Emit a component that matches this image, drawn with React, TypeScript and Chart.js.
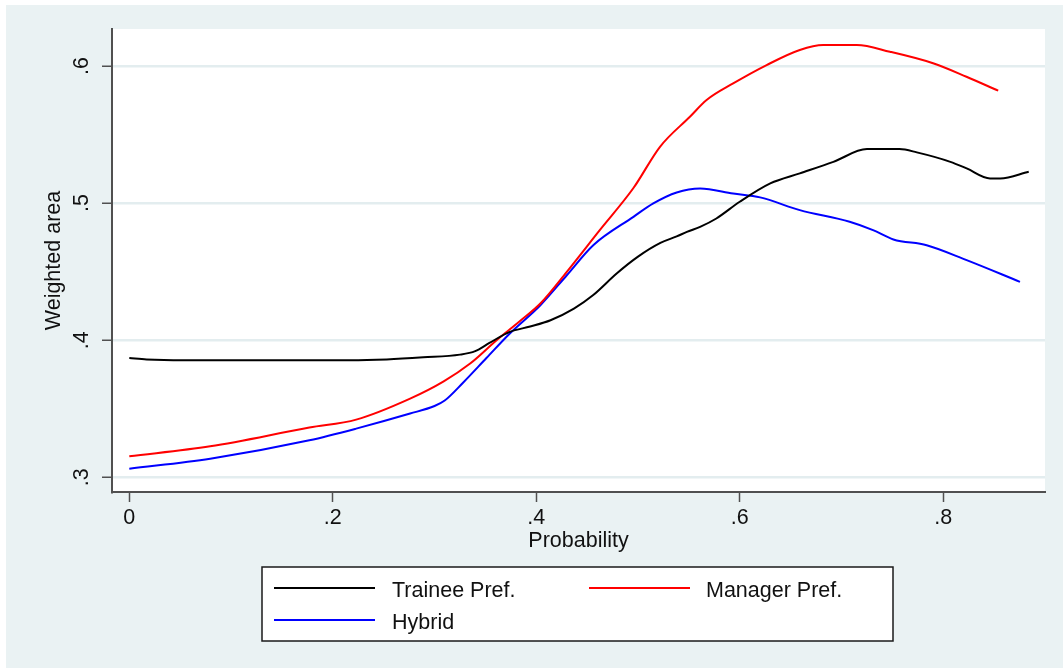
import React, { useEffect, useRef } from 'react';
import { Chart, registerables } from 'chart.js';

Chart.register(...registerables);

// ---- data ----
const xTicks = [0, 0.2, 0.4, 0.6, 0.8];
const xTickLabels = ['0', '.2', '.4', '.6', '.8'];
const yTicks = [0.3, 0.4, 0.5, 0.6];
const yTickLabels = ['.3', '.4', '.5', '.6'];

const xAxisTitle = 'Probability';
const yAxisTitle = 'Weighted area';

const seriesNames = ['Trainee Pref.', 'Manager Pref.', 'Hybrid'];
const seriesColors = ['#000000', '#ff0000', '#0000ff'];

const traineeX = [0, 0.017, 0.053, 0.217, 0.253, 0.289, 0.325, 0.34, 0.354, 0.374, 0.394, 0.414, 0.437, 0.456, 0.479, 0.5, 0.522, 0.538, 0.548, 0.561, 0.577, 0.6, 0.63, 0.659, 0.692, 0.725, 0.757, 0.774, 0.807, 0.823, 0.846, 0.856, 0.884];
const traineeY = [0.387, 0.386, 0.3854, 0.3854, 0.386, 0.3875, 0.3895, 0.392, 0.398, 0.4061, 0.41, 0.4146, 0.4231, 0.433, 0.4487, 0.461, 0.471, 0.4757, 0.479, 0.4827, 0.4888, 0.501, 0.5144, 0.5217, 0.5301, 0.5394, 0.5394, 0.537, 0.5301, 0.5253, 0.518, 0.518, 0.5229];

const managerX = [0, 0.0795, 0.177, 0.223, 0.276, 0.309, 0.335, 0.361, 0.384, 0.404, 0.43, 0.4624, 0.4955, 0.5216, 0.551, 0.5674, 0.5935, 0.6264, 0.659, 0.682, 0.715, 0.7476, 0.79, 0.8228, 0.854];
const managerY = [0.3153, 0.3226, 0.3363, 0.3421, 0.3574, 0.37, 0.383, 0.4, 0.414, 0.4268, 0.4499, 0.4803, 0.511, 0.5411, 0.563, 0.5752, 0.5873, 0.6007, 0.6117, 0.6153, 0.6153, 0.6104, 0.602, 0.5922, 0.582];

const hybridX = [0, 0.0795, 0.177, 0.223, 0.276, 0.3, 0.31, 0.328, 0.351, 0.374, 0.404, 0.43, 0.456, 0.4955, 0.515, 0.538, 0.561, 0.5935, 0.62, 0.659, 0.708, 0.731, 0.751, 0.7837, 0.823, 0.8754];
const hybridY = [0.3063, 0.3136, 0.327, 0.3355, 0.3465, 0.352, 0.356, 0.369, 0.387, 0.4049, 0.4255, 0.4474, 0.4693, 0.49, 0.4998, 0.5078, 0.5107, 0.507, 0.5042, 0.4949, 0.4864, 0.4803, 0.4735, 0.4693, 0.4584, 0.4426];

const FONT = "'Liberation Sans', Arial, sans-serif";
const FS = 21.5;
const BG = '#eaf2f3';
const GRID = '#e3edef';
const AXIS = '#505050';

function labelFor(v: number, ticks: number[], labels: string[]) {
  const i = ticks.findIndex((t) => Math.abs(t - v) < 1e-6);
  return i >= 0 ? labels[i] : '';
}

const backgroundPlugin = {
  id: 'stataBg',
  beforeDraw(chart: any) {
    const { ctx, chartArea } = chart;
    ctx.save();
    ctx.fillStyle = '#ffffff';
    ctx.fillRect(0, 0, chart.width, chart.height);
    ctx.fillStyle = BG;
    ctx.fillRect(6, 5, chart.width - 6, chart.height - 5);
    ctx.fillStyle = '#ffffff';
    ctx.fillRect(chartArea.left, chartArea.top, chartArea.right - chartArea.left, chartArea.bottom - chartArea.top);
    ctx.restore();
  },
};

const legendBoxPlugin = {
  id: 'stataLegend',
  afterDraw(chart: any) {
    const { ctx } = chart;
    const ds = chart.data.datasets;
    ctx.save();
    ctx.fillStyle = '#ffffff';
    ctx.fillRect(262, 567, 631, 74);
    ctx.strokeStyle = '#1a1a1a';
    ctx.lineWidth = 1.5;
    ctx.strokeRect(262, 567, 631, 74);
    const items = [
      { lx: 274, ly: 588, tx: 392, ty: 596.5 },
      { lx: 589, ly: 588, tx: 706, ty: 596.5 },
      { lx: 274, ly: 620, tx: 392, ty: 629 },
    ];
    ctx.font = `${FS}px ${FONT}`;
    ctx.textBaseline = 'alphabetic';
    ctx.textAlign = 'left';
    ds.forEach((d: any, i: number) => {
      const it = items[i];
      ctx.strokeStyle = d.borderColor;
      ctx.lineWidth = 2;
      ctx.beginPath();
      ctx.moveTo(it.lx, it.ly);
      ctx.lineTo(it.lx + 101, it.ly);
      ctx.stroke();
      ctx.fillStyle = '#111111';
      ctx.fillText(d.label, it.tx, it.ty);
    });
    ctx.restore();
  },
};

export default function App() {
  const ref = useRef<HTMLCanvasElement | null>(null);

  useEffect(() => {
    if (!ref.current) return;
    const mk = (xs: number[], ys: number[]) => xs.map((x, i) => ({ x, y: ys[i] }));
    const seriesData = [mk(traineeX, traineeY), mk(managerX, managerY), mk(hybridX, hybridY)];

    const chart = new Chart(ref.current, {
      type: 'line',
      data: {
        datasets: seriesNames.map((name, i) => ({
          label: name,
          data: seriesData[i],
          borderColor: seriesColors[i],
          backgroundColor: seriesColors[i],
          borderWidth: 2,
          pointRadius: 0,
          fill: false,
          cubicInterpolationMode: 'monotone' as const,
        })),
      },
      options: {
        animation: false,
        responsive: false,
        devicePixelRatio: 1,
        layout: { padding: { left: 0, top: 29, right: 18, bottom: 114 } },
        plugins: {
          legend: { display: false },
          tooltip: { enabled: false },
        },
        scales: {
          x: {
            type: 'linear',
            min: -0.017,
            max: 0.9,
            afterBuildTicks: (scale: any) => {
              scale.ticks = xTicks.map((v) => ({ value: v }));
            },
            afterFit: (scale: any) => {
              scale.height = 62;
            },
            ticks: {
              callback: (v: any) => labelFor(Number(v), xTicks, xTickLabels),
              font: { family: FONT, size: FS },
              color: '#111111',
              padding: 3,
              maxRotation: 0,
              minRotation: 0,
              autoSkip: false,
            },
            grid: {
              drawOnChartArea: false,
              drawTicks: true,
              tickLength: 10,
              tickColor: AXIS,
              tickWidth: 1.5,
            },
            border: { display: true, color: AXIS, width: 2 },
            title: {
              display: true,
              text: xAxisTitle,
              font: { family: FONT, size: FS },
              color: '#111111',
              padding: { top: 0, bottom: 0 },
            },
          },
          y: {
            type: 'linear',
            min: 0.2893,
            max: 0.627,
            afterBuildTicks: (scale: any) => {
              scale.ticks = yTicks.map((v) => ({ value: v }));
            },
            afterFit: (scale: any) => {
              scale.width = 112;
            },
            ticks: {
              callback: (v: any) => labelFor(Number(v), yTicks, yTickLabels),
              font: { family: FONT, size: FS },
              color: '#111111',
              padding: 11,
              minRotation: 90,
              maxRotation: 90,
              crossAlign: 'center',
              autoSkip: false,
            },
            grid: {
              drawOnChartArea: true,
              color: GRID,
              lineWidth: 2.5,
              drawTicks: true,
              tickLength: 10,
              tickColor: AXIS,
              tickWidth: 1.5,
            },
            border: { display: true, color: AXIS, width: 2 },
            title: {
              display: true,
              text: yAxisTitle,
              font: { family: FONT, size: FS },
              color: '#111111',
              padding: { top: 41, bottom: 0 },
            },
          },
        },
      },
      plugins: [backgroundPlugin, legendBoxPlugin],
    } as any);

    return () => chart.destroy();
  }, []);

  return (
    <div style={{ position: 'absolute', left: 0, top: 0, width: 1063, height: 668 }}>
      <canvas ref={ref} width={1063} height={668} style={{ display: 'block' }} />
    </div>
  );
}
